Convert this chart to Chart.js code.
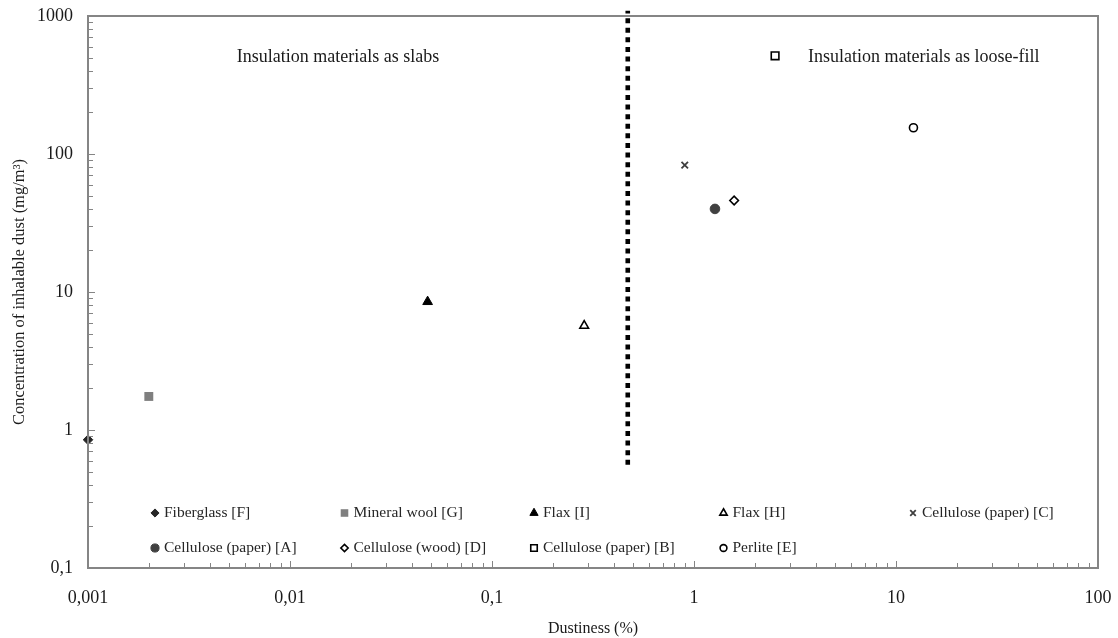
<!DOCTYPE html>
<html>
<head>
<meta charset="utf-8">
<script src="https://cdn.jsdelivr.net/npm/chart.js@4.4.1/dist/chart.umd.min.js"></script>
<style>
  body { margin: 0; background: #fff; }
  #wrap { width: 1118px; height: 638px; }
</style>
</head>
<body>
<div id="wrap"><canvas id="dustChart" width="1118" height="638"></canvas></div>
<script>
// dustiness (%) and inhalable dust (mg/m3) per material
var materials = ["Fiberglass [F]", "Mineral wool [G]", "Flax [I]", "Flax [H]", "Cellulose (paper) [C]",
                 "Cellulose (paper) [A]", "Cellulose (wood) [D]", "Cellulose (paper) [B]", "Perlite [E]"];
var dustiness = [0.001, 0.002, 0.048, 0.286, 0.90, 1.27, 1.58, 2.52, 12.2];
var concentration = [0.85, 1.75, 8.5, 5.7, 83, 40, 46, 515, 155];

// slabs / loose-fill separator
var dividerX = [0.47, 0.47];
var dividerY = [0.56, 1090];

var xTickValues = [0.001, 0.01, 0.1, 1, 10, 100];
var xTickLabels = ["0,001", "0,01", "0,1", "1", "10", "100"];
var yTickValues = [0.1, 1, 10, 100, 1000];
var yTickLabels = ["0,1", "1", "10", "100", "1000"];

var SERIF = "'Liberation Serif', 'DejaVu Serif', serif";

var markerStyles = [
  {pointStyle: 'rectRot', radius: 4.8, backgroundColor: '#262626', borderColor: '#262626', borderWidth: 1},
  {pointStyle: 'rect', radius: 6.3, backgroundColor: '#7f7f7f', borderColor: '#7f7f7f', borderWidth: 0},
  {pointStyle: 'triangle', radius: 5.6, backgroundColor: '#000', borderColor: '#000', borderWidth: 1},
  {pointStyle: 'triangle', radius: 5, backgroundColor: '#fff', borderColor: '#000', borderWidth: 1.6},
  {pointStyle: 'crossRot', radius: 4.6, backgroundColor: '#3f3f3f', borderColor: '#3f3f3f', borderWidth: 1.8},
  {pointStyle: 'circle', radius: 4.8, backgroundColor: '#404040', borderColor: '#404040', borderWidth: 1},
  {pointStyle: 'rectRot', radius: 4.3, backgroundColor: '#fff', borderColor: '#000', borderWidth: 1.6},
  {pointStyle: 'rect', radius: 5.4, backgroundColor: '#fff', borderColor: '#000', borderWidth: 1.6},
  {pointStyle: 'circle', radius: 4, backgroundColor: '#fff', borderColor: '#000', borderWidth: 1.6}
];

var datasets = materials.map(function(name, i) {
  var m = markerStyles[i];
  return {
    label: name,
    data: [{x: dustiness[i], y: concentration[i]}],
    pointStyle: m.pointStyle,
    pointRadius: m.radius,
    pointBackgroundColor: m.backgroundColor,
    pointBorderColor: m.borderColor,
    pointBorderWidth: m.borderWidth,
    clip: false
  };
});

datasets.push({
  type: 'line',
  label: 'divider',
  data: dividerX.map(function(x, i) { return {x: x, y: dividerY[i]}; }),
  borderColor: '#000',
  borderWidth: 4.6,
  borderDash: [5, 4.6],
  pointRadius: 0,
  showLine: true,
  clip: false
});

/* box frame + inward tick marks */
var frame = {
  id: 'frame',
  afterDatasetsDraw: function(chart) {
    var ctx = chart.ctx, a = chart.chartArea;
    var xs = chart.scales.x, ys = chart.scales.y;
    ctx.save();
    ctx.strokeStyle = '#858585';
    ctx.lineWidth = 1;
    ctx.beginPath();
    for (var e = -3; e < 2; e++) {
      for (var k = 1; k <= 10; k++) {
        var px = Math.round(xs.getPixelForValue(k * Math.pow(10, e))) + 0.5;
        ctx.moveTo(px, a.bottom); ctx.lineTo(px, a.bottom - (k == 1 || k == 10 ? 7 : 5));
      }
    }
    for (var e2 = -1; e2 < 3; e2++) {
      for (var j = 1; j <= 10; j++) {
        var py = Math.round(ys.getPixelForValue(j * Math.pow(10, e2))) + 0.5;
        ctx.moveTo(a.left, py); ctx.lineTo(a.left + (j == 1 || j == 10 ? 7 : 5), py);
      }
    }
    ctx.stroke();
    ctx.lineWidth = 2;
    ctx.strokeRect(a.left, a.top, a.right - a.left, a.bottom - a.top);
    ctx.restore();
  }
};

/* the two region captions */
var captions = {
  id: 'captions',
  afterDraw: function(chart) {
    var ctx = chart.ctx, a = chart.chartArea;
    ctx.save();
    ctx.font = '18px ' + SERIF;
    ctx.fillStyle = '#1a1a1a';
    ctx.textBaseline = 'middle';
    ctx.textAlign = 'center';
    ctx.fillText('Insulation materials as slabs', a.left + 250, a.top + 41);
    ctx.textAlign = 'left';
    ctx.fillText('Insulation materials as loose-fill', a.left + 720, a.top + 41);
    ctx.restore();
  }
};

/* legend laid out as a 5 column grid inside the plot */
var gridLegend = {
  id: 'gridLegend',
  afterDraw: function(chart) {
    var ctx = chart.ctx, a = chart.chartArea;
    ctx.save();
    ctx.font = '15.5px ' + SERIF;
    ctx.textBaseline = 'middle';
    ctx.textAlign = 'left';
    materials.forEach(function(name, i) {
      var m = markerStyles[i];
      var col = i % 5, row = Math.floor(i / 5);
      var x = a.left + 67 + col * 189.5;
      var y = a.bottom - 55 + row * 35;
      ctx.fillStyle = m.backgroundColor;
      ctx.strokeStyle = m.borderColor;
      ctx.lineWidth = m.borderWidth;
      Chart.helpers.drawPoint(ctx, {pointStyle: m.pointStyle, radius: m.radius * 0.85, borderWidth: m.borderWidth, rotation: 0}, x, y);
      ctx.fillStyle = '#262626';
      ctx.fillText(name, x + 9, y);
    });
    ctx.restore();
  }
};

var ctx = document.getElementById('dustChart');
var dustChart = new Chart(ctx, {
  type: 'scatter',
  data: {datasets: datasets},
  plugins: [frame, captions, gridLegend],
  options: {
    responsive: false,
    animation: false,
    devicePixelRatio: 1,
    layout: {padding: {top: 16, right: 20, left: 0, bottom: 0}},
    plugins: {legend: {display: false}, tooltip: {enabled: false}},
    scales: {
      x: {
        type: 'logarithmic',
        min: 0.001,
        max: 100,
        afterBuildTicks: function(s) { s.ticks = xTickValues.map(function(v) { return {value: v}; }); },
        afterFit: function(s) { s.height = 70; s.paddingLeft = 0; s.paddingRight = 0; },
        grid: {display: false, drawTicks: false},
        border: {display: false},
        ticks: {
          autoSkip: false,
          maxRotation: 0,
          padding: 19,
          color: '#1a1a1a',
          font: {family: SERIF, size: 18},
          callback: function(v) { return xTickLabels[xTickValues.indexOf(v)]; }
        },
        title: {display: true, text: 'Dustiness (%)', color: '#1a1a1a', font: {family: SERIF, size: 16}, padding: {top: 0, bottom: 0}}
      },
      y: {
        type: 'logarithmic',
        min: 0.1,
        max: 1000,
        afterBuildTicks: function(s) { s.ticks = yTickValues.map(function(v) { return {value: v}; }); },
        afterFit: function(s) { s.width = 88; s.paddingTop = 0; s.paddingBottom = 0; },
        grid: {display: false, drawTicks: false},
        border: {display: false},
        ticks: {
          autoSkip: false,
          padding: 15,
          color: '#1a1a1a',
          font: {family: SERIF, size: 18},
          callback: function(v) { return yTickLabels[yTickValues.indexOf(v)]; }
        },
        title: {display: true, text: 'Concentration of inhalable dust (mg/m³)', color: '#1a1a1a', font: {family: SERIF, size: 16.5}, padding: {top: 10, bottom: 0}}
      }
    }
  }
});
</script>
</body>
</html>
